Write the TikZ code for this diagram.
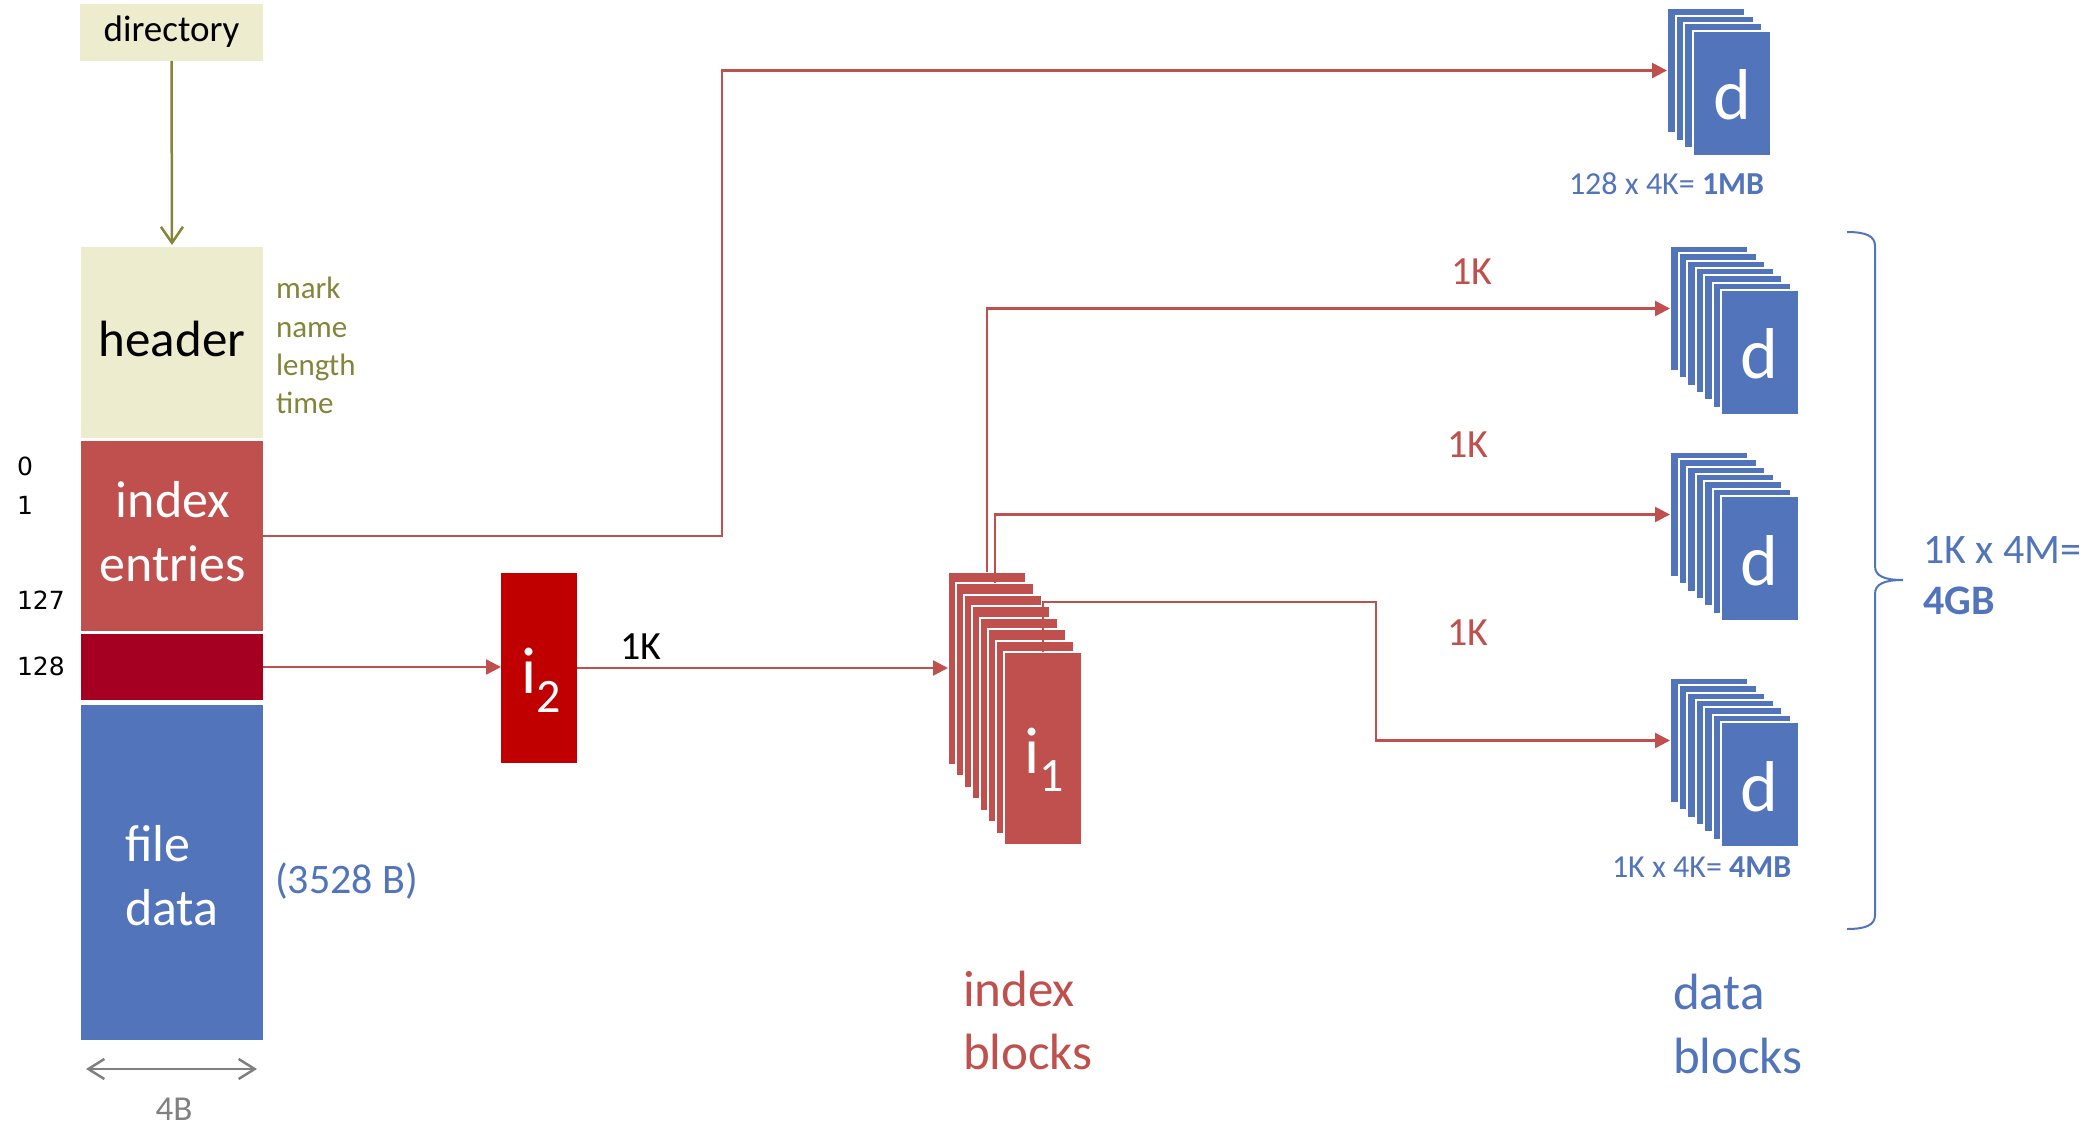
\documentclass[tikz,border=0pt]{standalone}
\usepackage{fontspec}
\setmainfont{Carlito}
\newfontfamily\numfont{DejaVu Sans}
\usetikzlibrary{arrows.meta}

\definecolor{tanfill}{HTML}{EEECCE}
\definecolor{idxred}{HTML}{C0504D}
\definecolor{darkred}{HTML}{A50021}
\definecolor{brightred}{HTML}{C00000}
\definecolor{datablue}{HTML}{5274BB}
\definecolor{olive}{HTML}{84843A}
\definecolor{rulegray}{HTML}{808080}

\newcommand{\fsz}[1]{\fontsize{#1}{#1}\selectfont}

\begin{document}
\begin{tikzpicture}[x=1pt,y=-1pt,
  box/.style={inner sep=0pt, outer sep=0pt, anchor=north west, draw=none},
  icard/.style={box, fill=idxred, draw=white, line width=2pt,
                minimum width=78pt, minimum height=193pt},
  dcard/.style={box, fill=datablue, draw=white, line width=2pt,
                minimum width=78pt, minimum height=125pt},
  txt/.style={inner sep=0pt, outer sep=0pt},
  conn/.style={draw=idxred, line width=2.4pt,
               -{Triangle[length=15pt,width=15pt]}},
  olivearrow/.style={draw=olive, line width=2.5pt,
               -{Straight Barb[length=16pt,width=22pt,line width=2.5pt]}},
  widtharrow/.style={draw=rulegray, line width=2.5pt,
               {Straight Barb[length=16pt,width=20pt,line width=2.5pt]}-{Straight Barb[length=16pt,width=20pt,line width=2.5pt]}}
]
\useasboundingbox (0,0) rectangle (2096,1129);

% ---------- inode column ----------
\node[box, fill=tanfill, minimum width=183pt, minimum height=57pt] (dir) at (80,4) {};
\node[txt, anchor=base, font=\fsz{37}] (dirt) at (171.5,42) {directory};

\node[box, fill=tanfill, minimum width=182pt, minimum height=191pt] (hdr) at (81,247) {};
\node[box, fill=idxred, minimum width=182pt, minimum height=190pt] (ie) at (81,441) {};
\node[box, fill=darkred, minimum width=182pt, minimum height=66pt] (b128) at (81,634) {};
\node[box, fill=datablue, minimum width=182pt, minimum height=335pt] (fd) at (81,705) {};

\node[txt, anchor=base, font=\fsz{51}] (hdrt) at (172,356) {header};
\node[txt, anchor=base, font=\fsz{52}, text=white] (iet1) at (173,517) {index};
\node[txt, anchor=base, font=\fsz{52}, text=white] (iet2) at (172.5,581) {entries};
\node[txt, anchor=base west, font=\fsz{52}, text=white] (fdt1) at (125,861) {file};
\node[txt, anchor=base west, font=\fsz{52}, text=white] (fdt2) at (125,925) {data};

% header fields
\node[txt, anchor=base west, font=\fsz{31}, text=olive] (f1) at (276,298) {mark};
\node[txt, anchor=base west, font=\fsz{31}, text=olive] (f2) at (276,337) {name};
\node[txt, anchor=base west, font=\fsz{31}, text=olive] (f3) at (276,375) {length};
\node[txt, anchor=base west, font=\fsz{31}, text=olive] (f4) at (276,413) {time};

% entry numbers
\node[txt, anchor=base west, font=\numfont\fsz{25}] (n0) at (17,475) {0};
\node[txt, anchor=base west, font=\numfont\fsz{25}] (n1) at (17,514) {1};
\node[txt, anchor=base west, font=\numfont\fsz{25}] (n127) at (17,609) {127};
\node[txt, anchor=base west, font=\numfont\fsz{25}] (n128) at (17,675) {128};

\node[txt, anchor=base west, font=\fsz{42}, text=datablue] (sz) at (275,893) {(3528 B)};

% width of an entry
\coordinate (w1) at (86,1069);
\coordinate (w2) at (257,1069);
\draw[widtharrow] (w1) -- (w2);
\node[txt, anchor=base, font=\fsz{35}, text=rulegray] (wt) at (174,1120) {4B};

\draw[olivearrow, shorten >=2pt] (dir.south) -- (hdr.north);

% ---------- double indirect block ----------
\node[box, fill=brightred, minimum width=76pt, minimum height=190pt] (i2) at (501,573) {};
\node[txt, anchor=base, text=white] (i2t) at (541,693)
  {\fsz{66}i\raisebox{-19pt}{\fsz{48}2}};
\node[txt, anchor=base west, font=\fsz{40}] (k0) at (620,659) {1K};

% ---------- index blocks ----------
\foreach \k in {1,...,8}
  \node[icard] (ib\k) at ({948+(\k-1)*8}, {572+(\k-1)*80/7}) {};
\node[txt, anchor=base, text=white] (i1t) at (1044,773)
  {\fsz{66}i\raisebox{-18pt}{\fsz{48}1}};

\node[txt, anchor=base west, font=\fsz{51}, text=idxred] (ibl1) at (963,1006) {index};
\node[txt, anchor=base west, font=\fsz{51}, text=idxred] (ibl2) at (963,1069) {blocks};

% ---------- data blocks ----------
\foreach \k in {1,...,4}
  \node[dcard] (sa\k) at ({1667+(\k-1)*26/3}, {8+(\k-1)*23/3}) {};
\foreach \s/\t in {b/246, c/452, d/678}
  \foreach \k in {1,...,7}
    \node[dcard] (s\s\k) at ({1670+(\k-1)*8.5}, {\t+(\k-1)*44/6}) {};

\node[txt, anchor=base, font=\fsz{72}, text=white] (da) at (1732,120) {d};
\node[txt, anchor=base, font=\fsz{72}, text=white] (db) at (1759.5,378) {d};
\node[txt, anchor=base, font=\fsz{72}, text=white] (dc) at (1759.5,585) {d};
\node[txt, anchor=base, font=\fsz{72}, text=white] (dd) at (1759.5,811) {d};

\node[txt, anchor=base west, font=\fsz{32}, text=datablue] (c1) at (1569,194)
  {128 x 4K= \textbf{1MB}};
\node[txt, anchor=base west, font=\fsz{32}, text=datablue] (c2) at (1612,877)
  {1K x 4K= \textbf{4MB}};

\node[txt, anchor=base west, font=\fsz{51}, text=datablue] (dbl1) at (1673,1009) {data};
\node[txt, anchor=base west, font=\fsz{51}, text=datablue] (dbl2) at (1673,1073) {blocks};

% brace over the double indirect range
\draw[datablue, line width=2pt]
  (1847,232) .. controls (1866,232) and (1875,236) .. (1875,246)
  -- (1875,566) .. controls (1875,576) and (1884,580) .. (1903,580)
  .. controls (1884,580) and (1875,584) .. (1875,594)
  -- (1875,915) .. controls (1875,925) and (1866,929) .. (1847,929);
\node[txt, anchor=base west, font=\fsz{42}, text=datablue] (tot1) at (1923,563) {1K x 4M=};
\node[txt, anchor=base west, font=\fsz{42}, text=datablue] (tot2) at (1923,614) {\textbf{4GB}};

% ---------- connectors ----------
\coordinate (t1) at (722,0);
\draw[conn] (ie.east) -- (ie.east -| t1) |- (sa1.west);
\draw[conn] (b128.east) -- (b128.east -| i2.west);
\draw[conn] (i2.east) -- (i2.east -| ib1.west);
\draw[conn] (ib1.north) |- (sb1.west);
\draw[conn] (ib2.north) |- (sc1.west);
\coordinate (t3) at (1376,602);
\draw[conn] (ib8.north) |- (t3) |- (sd1.west);

\node[txt, anchor=base, font=\fsz{40}, text=idxred] (k1) at (1472,284) {1K};
\node[txt, anchor=base, font=\fsz{40}, text=idxred] (k2) at (1468,457) {1K};
\node[txt, anchor=base, font=\fsz{40}, text=idxred] (k3) at (1468,645) {1K};

\end{tikzpicture}
\end{document}
